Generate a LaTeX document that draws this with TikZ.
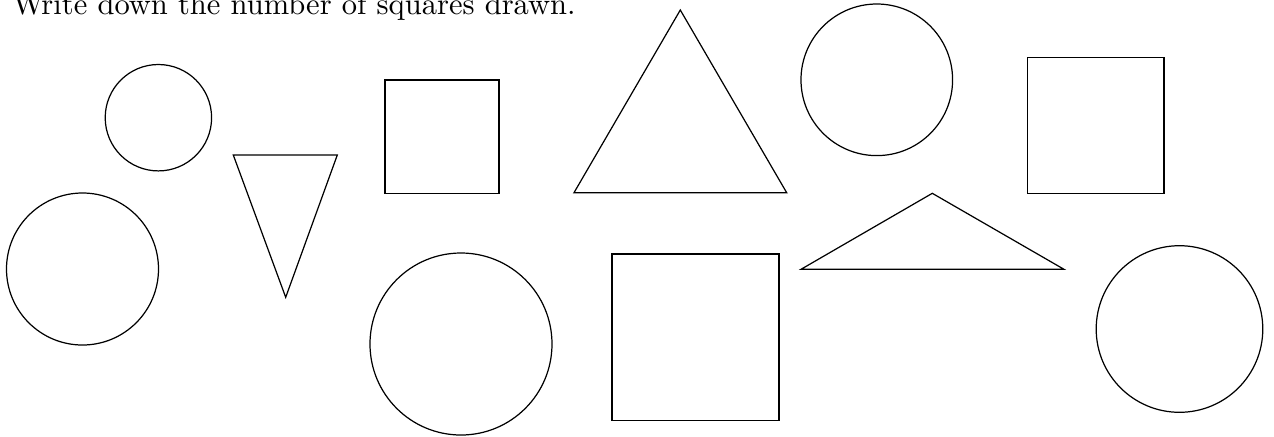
\documentclass[tikz,border=0pt]{standalone}
\begin{document}
\begin{tikzpicture}[x=0.3275pt,y=-0.3275pt,outline/.style={draw=black,line width=0.4pt}]
\useasboundingbox (0,0) rectangle (1274,436);
\node[anchor=base west,inner sep=0pt,font=\fontsize{10}{12}\selectfont] (title) at (12,14) {Write down the number of squares drawn.};
% circles
\draw[outline] (158.4,117.7) circle[radius=53.2];
\draw[outline] (82.5,269) circle[radius=76];
\draw[outline] (461,344) circle[radius=91];
\draw[outline] (876.8,79.8) circle[radius=75.8];
\draw[outline] (1179.5,329) circle[radius=83.3];
% squares
\draw[outline] (385,80) rectangle (499,193.3);
\draw[outline] (1027.7,57.3) rectangle (1164,193.3);
\draw[outline] (612,254) rectangle (779,420.3);
% triangles
\draw[outline] (233.3,155) -- (337.3,155) -- (285.7,297.3) -- cycle;
\draw[outline] (574,192.7) -- (786.7,192.7) -- (680.3,10) -- cycle;
\draw[outline] (801,269.3) -- (1064,269.3) -- (932.3,193.3) -- cycle;
\end{tikzpicture}
\end{document}
